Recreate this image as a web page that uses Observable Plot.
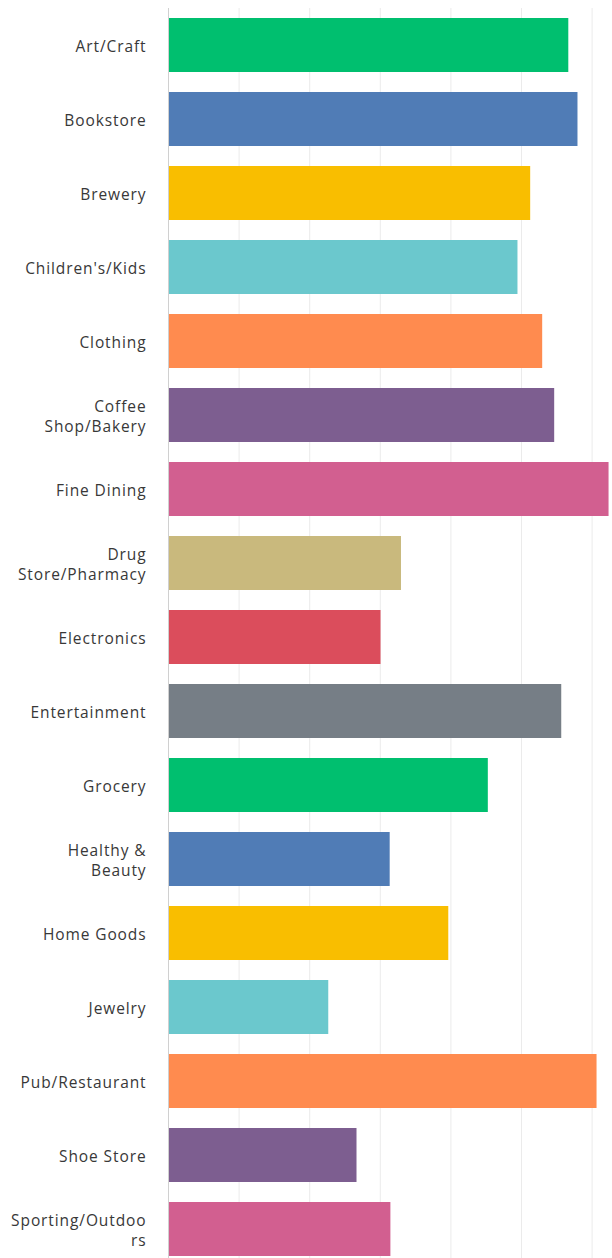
<!DOCTYPE html>
<html>
<head>
<meta charset="utf-8">
<script src="https://cdn.jsdelivr.net/npm/d3@7"></script>
<script src="https://cdn.jsdelivr.net/npm/@observablehq/plot@0.6"></script>
<style>
  html, body { margin: 0; padding: 0; background: #fff; }
  #chart svg { display: block; }
</style>
</head>
<body>
<div id="chart"></div>
<script>
const categories = ["Art/Craft","Bookstore","Brewery","Children's/Kids","Clothing","Coffee Shop/Bakery","Fine Dining","Drug Store/Pharmacy","Electronics","Entertainment","Grocery","Healthy & Beauty","Home Goods","Jewelry","Pub/Restaurant","Shoe Store","Sporting/Outdoors"];
const tickLabels = ["Art/Craft","Bookstore","Brewery","Children's/Kids","Clothing","Coffee\nShop/Bakery","Fine Dining","Drug\nStore/Pharmacy","Electronics","Entertainment","Grocery","Healthy &\nBeauty","Home Goods","Jewelry","Pub/Restaurant","Shoe Store","Sporting/Outdoo\nrs"];
const values = [56.7, 58.0, 51.3, 49.5, 53.0, 54.7, 62.4, 33.0, 30.1, 55.7, 45.3, 31.4, 39.7, 22.7, 60.7, 26.7, 31.5];
const palette = ["#00BF6F","#507CB6","#F9BE00","#6BC8CD","#FF8B4F","#7D5E90","#D25F90","#C9B97D","#DB4D5C","#767E86"];
const gridTicks = [10, 20, 30, 40, 50, 60];

const data = categories.map((c, i) => ({category: c, value: values[i], color: palette[i % palette.length]}));
const labelOf = new Map(categories.map((c, i) => [c, tickLabels[i]]));

const chart = Plot.plot({
  width: 612,
  height: 1258,
  marginLeft: 168,
  marginRight: 0,
  marginTop: 8,
  marginBottom: 0,
  style: {fontFamily: "'Open Sans', sans-serif", color: "#333", letterSpacing: "0.9px"},
  x: {domain: [0, 444 / 7.06], axis: null},
  y: {domain: categories, range: [8, 1266], paddingInner: 0.27, paddingOuter: 0.11, axis: null},
  marks: [
    Plot.ruleX(gridTicks, {stroke: "#ebebeb", strokeWidth: 1}),
    Plot.barX(data, {y: "category", x: "value", fill: "color"}),
    Plot.ruleX([0], {stroke: "#d0d0d0", strokeWidth: 1}),
    Plot.axisY({
      label: null,
      tickSize: 0,
      tickPadding: 22,
      fontSize: 15.5,
      lineHeight: 1.3,
      fill: "#383838",
      tickFormat: d => labelOf.get(d)
    })
  ]
});
document.getElementById("chart").appendChild(chart);
</script>
</body>
</html>
